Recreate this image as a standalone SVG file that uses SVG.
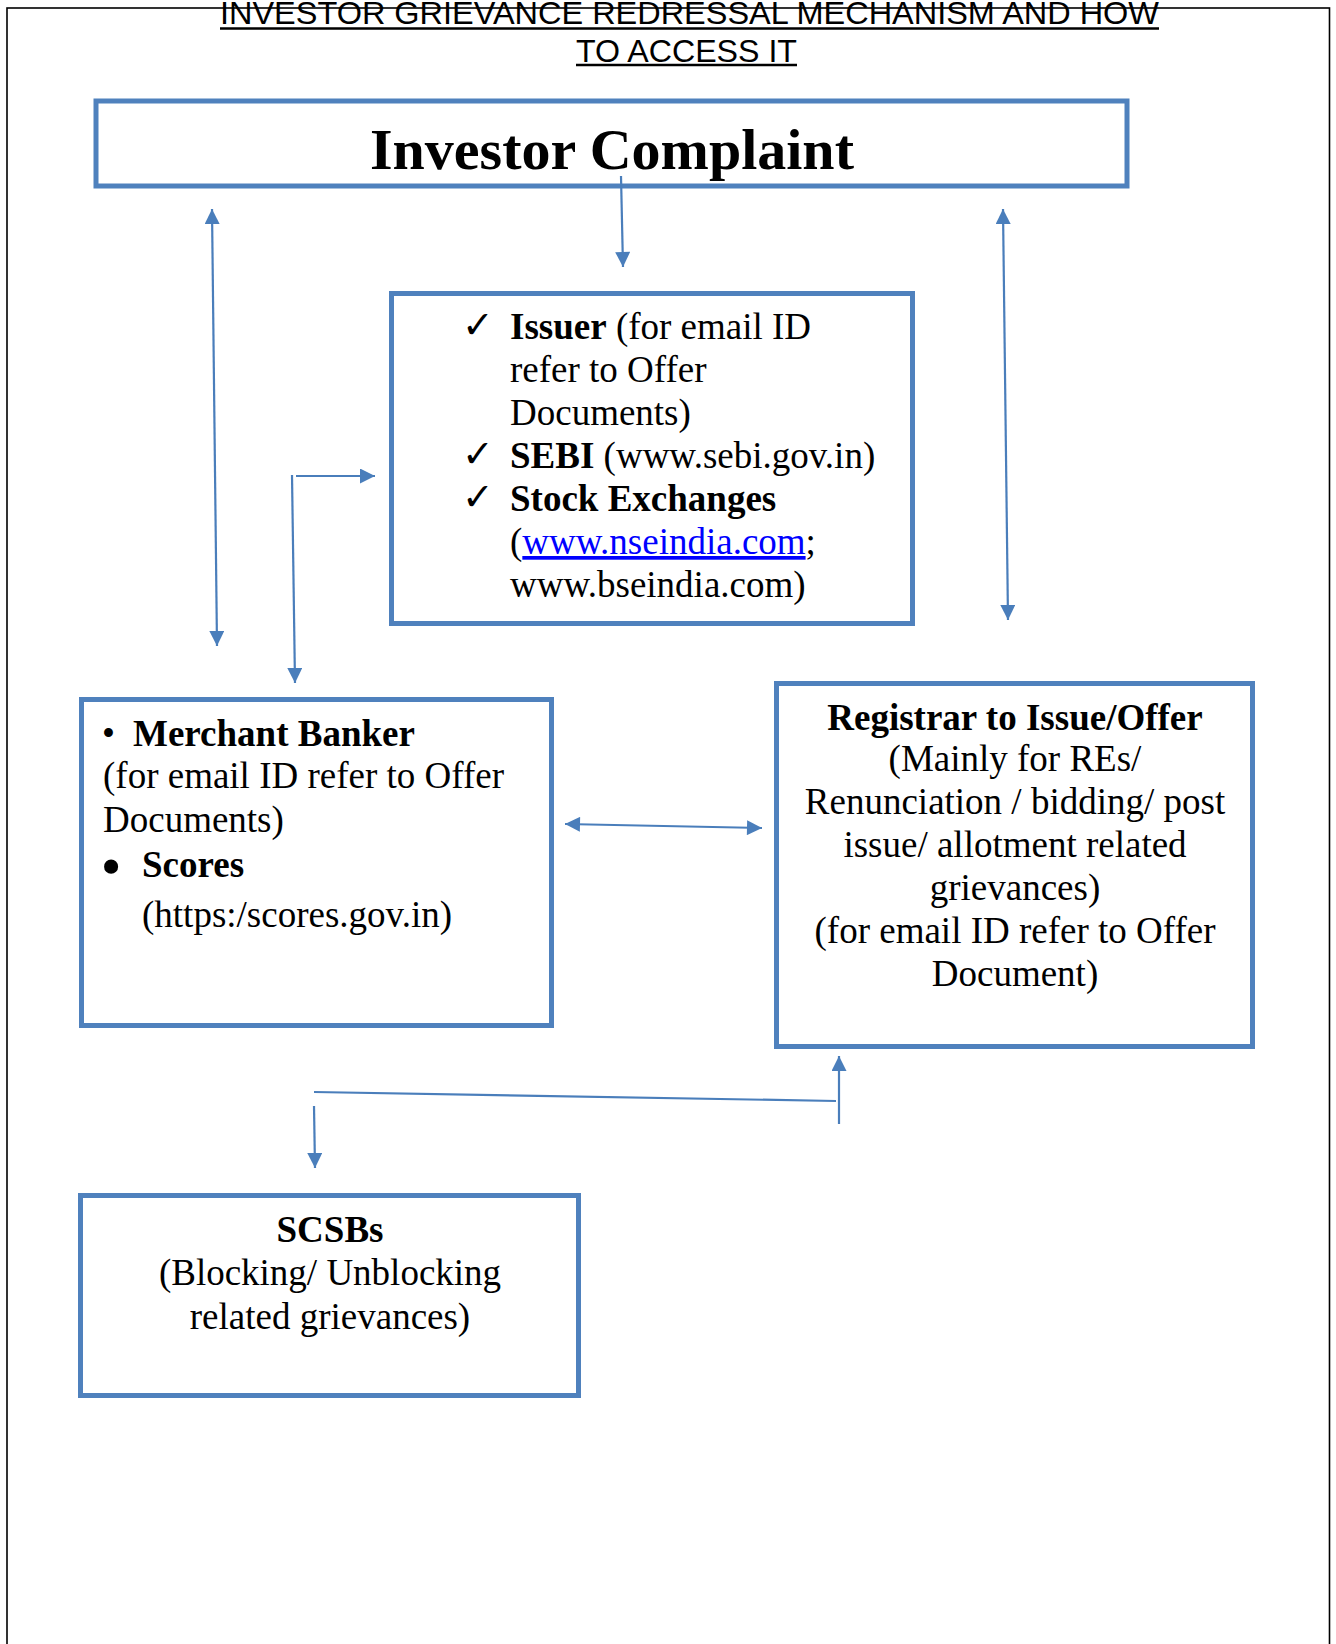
<svg xmlns="http://www.w3.org/2000/svg" width="1336" height="1644" viewBox="0 0 1336 1644">
<defs>
<style>
.box{fill:#fff;stroke:#4F81BD;stroke-width:5}
.con{stroke:#4A7EBB;stroke-width:2.2;fill:none}
.t{font-family:"Liberation Serif","Times New Roman",serif;font-size:37px;fill:#000}
.b{font-weight:bold}
.title{font-family:"Liberation Sans",Arial,sans-serif;font-size:32px;fill:#000}
.ul{stroke:#000;stroke-width:2.5}
.chk{font-family:"DejaVu Sans",sans-serif;font-size:38px;fill:#000}
</style>
<marker id="ah" viewBox="0 0 10 10" refX="10" refY="5" markerUnits="userSpaceOnUse" markerWidth="16" markerHeight="15" orient="auto-start-reverse">
<path d="M0,0 L10,5 L0,10 z" fill="#4A7EBB"/>
</marker>
</defs>
<rect width="1336" height="1644" fill="#fff"/>
<rect x="7" y="8" width="1322.5" height="1700" fill="none" stroke="#000" stroke-width="1.6"/>
<g id="title">
<text class="title" x="689.5" y="24" text-anchor="middle" textLength="939" lengthAdjust="spacingAndGlyphs">INVESTOR GRIEVANCE REDRESSAL MECHANISM AND HOW</text>
<line class="ul" x1="220" y1="28.5" x2="1159" y2="28.5"/>
<text class="title" x="686.5" y="62" text-anchor="middle" textLength="221" lengthAdjust="spacingAndGlyphs">TO ACCESS IT</text>
<line class="ul" x1="576" y1="65" x2="797" y2="65"/>
</g>
<g id="investor-complaint">
<rect class="box" x="96" y="101" width="1031" height="85"/>
<text class="t b" x="612" y="169" text-anchor="middle" style="font-size:58px">Investor Complaint</text>
</g>
<g id="issuer-sebi-exchanges">
<rect class="box" x="391.5" y="293.5" width="521" height="330"/>
<text class="chk" x="462" y="338">✓</text>
<text class="t" x="510" y="339"><tspan class="b">Issuer</tspan> (for email ID</text>
<text class="t" x="510" y="382">refer to Offer</text>
<text class="t" x="510" y="425">Documents)</text>
<text class="chk" x="462" y="467">✓</text>
<text class="t" x="510" y="468"><tspan class="b">SEBI</tspan> (www.sebi.gov.in)</text>
<text class="chk" x="462" y="510">✓</text>
<text class="t b" x="510" y="511">Stock Exchanges</text>
<text class="t" x="510" y="554">(<tspan fill="#0000FF" text-decoration="underline">www.nseindia.com</tspan>;</text>
<text class="t" x="510" y="597">www.bseindia.com)</text>
</g>
<g id="merchant-banker-scores">
<rect class="box" x="81.5" y="699.5" width="470" height="326"/>
<text class="t" x="102" y="746">•</text>
<text class="t b" x="133" y="746">Merchant Banker</text>
<text class="t" x="103" y="788">(for email ID refer to Offer</text>
<text class="t" x="103" y="832">Documents)</text>
<text class="t b" x="102" y="884" style="font-size:52px">•</text>
<text class="t b" x="142" y="877">Scores</text>
<text class="t" x="142" y="927">(https:/scores.gov.in)</text>
</g>
<g id="registrar">
<rect class="box" x="776.5" y="683.5" width="476" height="363"/>
<text class="t b" x="1015" y="730" text-anchor="middle">Registrar to Issue/Offer</text>
<text class="t" x="1015" y="771" text-anchor="middle">(Mainly for REs/</text>
<text class="t" x="1015" y="814" text-anchor="middle">Renunciation / bidding/ post</text>
<text class="t" x="1015" y="857" text-anchor="middle">issue/ allotment related</text>
<text class="t" x="1015" y="900" text-anchor="middle">grievances)</text>
<text class="t" x="1015" y="943" text-anchor="middle">(for email ID refer to Offer</text>
<text class="t" x="1015" y="986" text-anchor="middle">Document)</text>
</g>
<g id="scsbs">
<rect class="box" x="80.5" y="1195.5" width="498" height="200"/>
<text class="t b" x="330" y="1242" text-anchor="middle">SCSBs</text>
<text class="t" x="330" y="1285" text-anchor="middle">(Blocking/ Unblocking</text>
<text class="t" x="330" y="1329" text-anchor="middle">related grievances)</text>
</g>
<g id="connectors">
<line class="con" x1="621" y1="176" x2="623" y2="267" marker-end="url(#ah)"/>
<line class="con" x1="212" y1="209" x2="217" y2="646" marker-start="url(#ah)" marker-end="url(#ah)"/>
<line class="con" x1="296" y1="476" x2="375" y2="476" marker-end="url(#ah)"/>
<line class="con" x1="292" y1="475" x2="295" y2="683" marker-end="url(#ah)"/>
<line class="con" x1="1003" y1="209" x2="1008" y2="620" marker-start="url(#ah)" marker-end="url(#ah)"/>
<line class="con" x1="565" y1="824" x2="762" y2="828" marker-start="url(#ah)" marker-end="url(#ah)"/>
<line class="con" x1="314" y1="1092" x2="836" y2="1101"/>
<line class="con" x1="314" y1="1106" x2="315" y2="1168" marker-end="url(#ah)"/>
<line class="con" x1="839" y1="1124" x2="839" y2="1056" marker-end="url(#ah)"/>
</g>
</svg>
